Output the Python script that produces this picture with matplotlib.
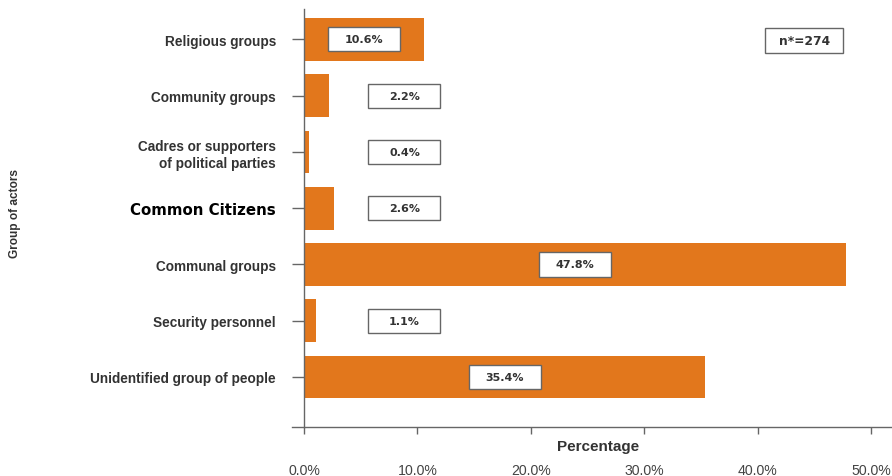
import matplotlib
matplotlib.use("Agg")
import matplotlib.pyplot as plt
from matplotlib.patches import Rectangle

# Share of incidents by group of actors (%)
categories = [
    "Religious groups",
    "Community groups",
    "Cadres or supporters\nof political parties",
    "Common Citizens",
    "Communal groups",
    "Security personnel",
    "Unidentified group of people",
]
values = [10.6, 2.2, 0.4, 2.6, 47.8, 1.1, 35.4]
xticks = [0, 10, 20, 30, 40, 50]
xtick_labels = ["0.0%", "10.0%", "20.0%", "30.0%", "40.0%", "50.0%"]
sample_note = "n*=274"

BAR_COLOR = "#E2771C"
TEXT_DARK = "#333333"
AXIS_GRAY = "#666666"

fig = plt.figure(figsize=(8.92, 4.77), dpi=100)
fig.patch.set_facecolor("white")
ax = fig.add_axes([292 / 892, 1 - 428 / 477, 600 / 892, 418 / 477])

ypos = list(range(len(categories)))
ax.barh(ypos, values, height=0.76, color=BAR_COLOR, zorder=2)

ax.set_xlim(-1.06, 51.85)
ax.set_ylim(6.889, -0.542)

# value boxes
box_w, box_h = 6.35, 0.427
small_center = 8.86
for y, v in zip(ypos, values):
    cx = v / 2 if v >= 10 else small_center
    ax.add_patch(Rectangle((cx - box_w / 2, y - box_h / 2), box_w, box_h,
                           facecolor="white", edgecolor=AXIS_GRAY, lw=1.0, zorder=3))
    ax.text(cx, y, f"{v:.1f}%", ha="center", va="center", fontsize=8,
            fontweight="bold", color=TEXT_DARK, family="DejaVu Sans", zorder=4)

# sample size note
nx, nw, nh = 44.1, 6.88, 0.44
ax.add_patch(Rectangle((nx - nw / 2, 0.02 - nh / 2), nw, nh, facecolor="white",
                       edgecolor=AXIS_GRAY, lw=1.0, zorder=3))
ax.text(nx, 0.02, sample_note, ha="center", va="center", fontsize=8.8,
        fontweight="bold", color=TEXT_DARK, family="DejaVu Sans", zorder=4)

# spines
for s in ("top", "right"):
    ax.spines[s].set_visible(False)
ax.spines["left"].set_position(("data", 0))
ax.spines["left"].set_color(AXIS_GRAY)
ax.spines["bottom"].set_color(AXIS_GRAY)
ax.spines["left"].set_linewidth(1.0)
ax.spines["bottom"].set_linewidth(1.0)

ax.set_yticks(ypos)
ax.set_yticklabels(categories)
ax.tick_params(axis="y", length=8.6, width=1.0, color=AXIS_GRAY, pad=11.5)
for lbl in ax.get_yticklabels():
    if lbl.get_text() == "Common Citizens":
        lbl.set_family("DejaVu Sans")
        lbl.set_fontweight("bold")
        lbl.set_fontsize(10.8)
        lbl.set_color("black")
    else:
        lbl.set_family("Liberation Sans")
        lbl.set_fontweight("bold")
        lbl.set_fontsize(9.8)
        lbl.set_color(TEXT_DARK)
    lbl.set_multialignment("right")

ax.set_xticks(xticks)
ax.set_xticklabels(xtick_labels)
ax.tick_params(axis="x", length=5, width=1.0, color=AXIS_GRAY, pad=21,
               labelsize=10.2, labelcolor="#444444")
for lbl in ax.get_xticklabels():
    lbl.set_family("Liberation Sans")

fig.text(598 / 892, 1 - 447 / 477, "Percentage", ha="center", va="center",
         fontsize=11, fontweight="bold", color=TEXT_DARK, family="Liberation Sans")
fig.text(15 / 892, 1 - 213 / 477, "Group of actors", ha="center", va="center",
         rotation=90, fontsize=8.6, fontweight="bold", color=TEXT_DARK,
         family="Liberation Sans")

fig.savefig("out.png", dpi=100, facecolor="white")
